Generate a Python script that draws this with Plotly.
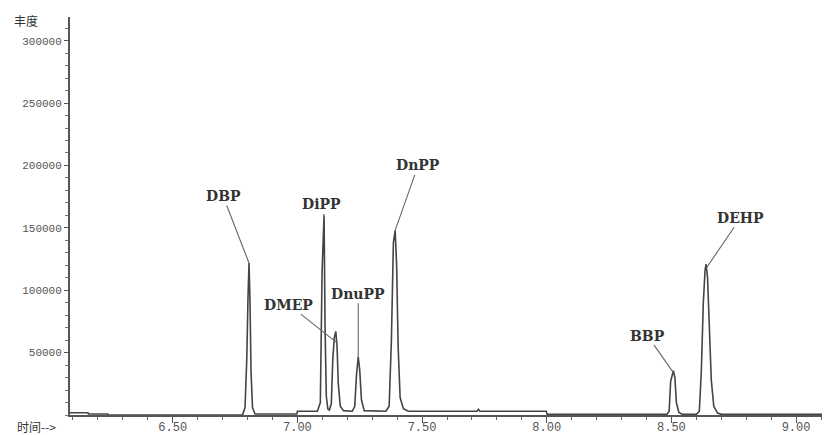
import plotly.graph_objects as go

# ---- data ----
time_min = [
    6.088, 6.160, 6.162, 6.240, 6.242, 6.780,
    6.790, 6.797, 6.802, 6.806, 6.810, 6.814, 6.820, 6.830,
    6.998, 7.000, 7.080, 7.092, 7.099, 7.104, 7.107, 7.111, 7.116, 7.122, 7.128,
    7.136, 7.142, 7.148, 7.154, 7.159, 7.164, 7.172, 7.185,
    7.220, 7.230, 7.237, 7.244, 7.250, 7.257, 7.268,
    7.355, 7.368, 7.377, 7.385, 7.392, 7.398, 7.404, 7.412, 7.425, 7.445,
    7.720, 7.726, 7.732, 7.998, 8.002,
    8.482, 8.491, 8.497, 8.502, 8.508, 8.514, 8.520, 8.530, 8.545,
    8.600, 8.612, 8.620, 8.628, 8.635, 8.639, 8.645, 8.652, 8.660, 8.670, 8.685, 8.700, 9.104,
]
abundance = [
    1800, 1800, 800, 800, 0, 0,
    6000, 45000, 95000, 121800, 90000, 35000, 6000, 800,
    800, 3000, 3000, 10000, 115000, 150000, 160000, 70000, 15000, 5000, 4000,
    9000, 45000, 62000, 67000, 55000, 25000, 7000, 3500,
    3000, 7000, 32000, 46700, 36000, 12000, 3500,
    3000, 7000, 60000, 138000, 148000, 120000, 55000, 14000, 5000, 3000,
    3000, 4500, 3000, 3000, 500,
    500, 3000, 27000, 32000, 35500, 30000, 10000, 2000, 500,
    500, 3000, 35000, 90000, 116000, 121000, 110000, 70000, 28000, 7000, 1500, 500, 500,
]

peak_names = ["DBP", "DiPP", "DMEP", "DnuPP", "DnPP", "BBP", "DEHP"]
peak_rt = [6.806, 7.107, 7.158, 7.244, 7.392, 8.508, 8.641]
peak_height = [121800, 160000, 58000, 46700, 148000, 34000, 118000]

x_tickvals = [6.5, 7.0, 7.5, 8.0, 8.5, 9.0]
x_ticktext = ["6.50", "7.00", "7.50", "8.00", "8.50", "9.00"]
y_tickvals = [50000, 100000, 150000, 200000, 250000, 300000]
y_ticktext = ["50000", "100000", "150000", "200000", "250000", "300000"]

# label offsets in pixels (style, not data)
label_offsets = [(-26, -67), (-3, -11), (-48, -38), (0, -63), (23, -65), (-26, -37), (34, -50)]

fig = go.Figure()
fig.add_trace(go.Scatter(
    x=time_min, y=abundance, mode="lines",
    line=dict(color="#444444", width=1.6),
    hoverinfo="skip", showlegend=False,
))

for name, rt, h, (ax, ay) in zip(peak_names, peak_rt, peak_height, label_offsets):
    fig.add_annotation(
        x=rt, y=h, text=name, showarrow=True, arrowhead=0, arrowwidth=1.1,
        arrowcolor="#666666", ax=ax, ay=ay, standoff=0,
        font=dict(family="DejaVu Serif", size=14, color="#333333", weight="bold"),
    )

fig.update_xaxes(
    range=[6.088, 9.104], tickvals=x_tickvals, ticktext=x_ticktext,
    showgrid=False, zeroline=False, showline=True, linecolor="#555555", linewidth=2,
    ticks="outside", ticklen=6, tickcolor="#555555", tickwidth=1,
    minor=dict(dtick=0.1, tick0=6.0, ticks="outside", ticklen=3, tickcolor="#666666"),
    tickfont=dict(family="Liberation Mono", size=12, color="#555555"),
    automargin=False, ticklabelstandoff=-6,
)
fig.update_yaxes(
    range=[0, 319000], tickvals=y_tickvals, ticktext=y_ticktext,
    showgrid=False, zeroline=False, showline=True, linecolor="#555555", linewidth=2,
    ticks="outside", ticklen=4, tickcolor="#555555", tickwidth=1,
    minor=dict(dtick=10000, ticks="outside", ticklen=3, tickcolor="#777777"),
    tickfont=dict(family="Liberation Mono", size=11, color="#555555"),
    automargin=False,
)

fig.add_annotation(
    xref="paper", yref="paper", x=-0.058, y=0.992, xanchor="center", yanchor="middle",
    text="丰度", showarrow=False,
    font=dict(family="Noto Sans CJK SC", size=12, color="#333333"),
)
fig.add_annotation(
    xref="paper", yref="paper", x=-0.044, y=-0.03, xanchor="center", yanchor="middle",
    text="时间-->", showarrow=False,
    font=dict(family="Noto Sans CJK SC", size=12, color="#333333"),
)

fig.update_layout(
    width=825, height=435,
    margin=dict(l=70, r=3, t=17, b=20),
    paper_bgcolor="white", plot_bgcolor="white",
)

fig.write_html(
    "out.html",
    config={"displayModeBar": False},
    post_script="document.body.style.margin='0px';",
)
